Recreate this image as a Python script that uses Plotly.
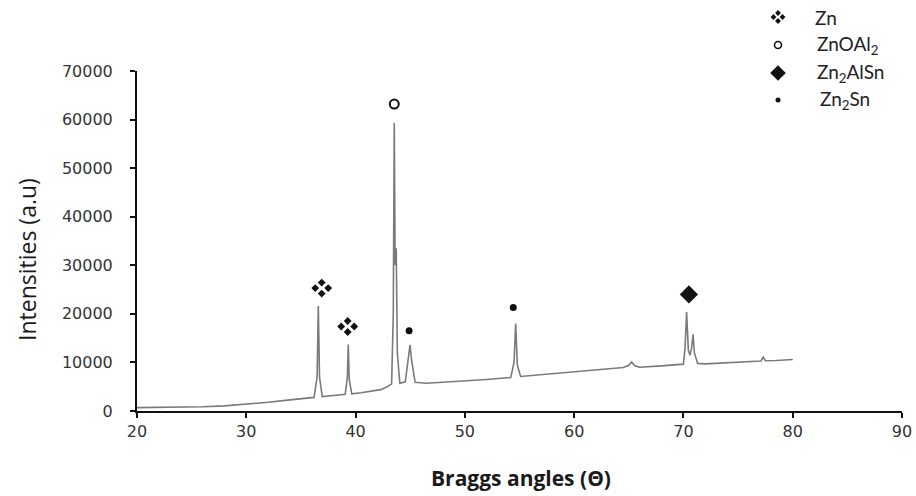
import plotly.graph_objects as go

# XRD pattern: (Bragg angle, intensity) vertices of the measured trace
angle = [
    20.0, 23.0, 26.0, 28.0, 30.0, 32.0, 34.0, 36.2,
    36.48, 36.59, 36.70, 36.95, 38.0, 39.05,
    39.25, 39.33, 39.42, 39.65, 40.5, 41.5, 42.3, 42.9, 43.3,
    43.45, 43.54, 43.62, 43.72, 43.82, 44.05, 44.55,
    44.85, 44.98, 45.12, 45.45, 46.5, 48.0, 50.0, 52.0, 54.2,
    54.5, 54.65, 54.8, 55.1, 57.0, 60.0, 62.0, 64.5,
    65.0, 65.26, 65.55, 66.0, 68.0, 70.0,
    70.15, 70.29, 70.45, 70.6, 70.75, 70.88, 71.0, 71.3,
    72.0, 74.0, 76.0, 77.1, 77.3, 77.5, 78.5, 80.0,
]
intensity = [
    700, 740, 860, 1050, 1400, 1800, 2300, 2800,
    7000, 21600, 7000, 2950, 3200, 3450,
    7000, 13700, 6500, 3550, 3750, 4050, 4400, 5000, 5600,
    20000, 59300, 30000, 33500, 12000, 5700, 6000,
    11000, 13600, 10500, 5900, 5700, 5900, 6100, 6500, 6900,
    10000, 18000, 9500, 7100, 7500, 8100, 8500, 8950,
    9400, 10100, 9300, 9000, 9300, 9650,
    13000, 20400, 12500, 11500, 13000, 15800, 12000, 9800,
    9700, 9900, 10100, 10300, 11100, 10350, 10400, 10600,
]

# phase markers placed above the indexed reflections
zn_angle = [36.9, 39.28]
zn_int = [25300, 17400]
znoal_angle = [43.54]
znoal_int = [63200]
znalsn_angle = [70.5]
znalsn_int = [24000]
znsn_angle = [44.9, 54.43]
znsn_int = [16500, 21300]

legend_labels = ["Zn", "ZnOAl<sub>2</sub>", "Zn<sub>2</sub>AlSn", "Zn<sub>2</sub>Sn"]

x_ticks = [20, 30, 40, 50, 60, 70, 80, 90]
y_ticks = [0, 10000, 20000, 30000, 40000, 50000, 60000, 70000]
y_tick_text = ["0", "10000", "20000", "30000", "40000", "50000", "60000", "70000"]

X_RANGE = [20, 90]
Y_RANGE = [0, 70000]
INK = "#111111"

FIG_W, FIG_H = 916, 496
# plot area: 137..902 px horizontally, 71..411 px vertically
L, R, T, B = 137, 902, 71, 411
X_PER_PX = (X_RANGE[1] - X_RANGE[0]) / (R - L)
Y_PER_PX = (Y_RANGE[1] - Y_RANGE[0]) / (B - T)


def fx(xp):
    return xp / FIG_W


def fy(yp):
    return 1 - yp / FIG_H


fig = go.Figure()

fig.add_trace(go.Scatter(
    x=angle, y=intensity, mode="lines",
    line=dict(color="#7a7a7a", width=1.6),
    showlegend=False, hoverinfo="skip",
))


def zn_symbol(xs, ys, dx, dy, size, xaxis="x", yaxis="y"):
    """Zn symbol: four small diamonds arranged around each (x, y)."""
    cx, cy = [], []
    for x, y in zip(xs, ys):
        for sx, sy in [(-dx, 0), (dx, 0), (0, dy), (0, -dy)]:
            cx.append(x + sx)
            cy.append(y + sy)
    fig.add_trace(go.Scatter(
        x=cx, y=cy, mode="markers", cliponaxis=False, xaxis=xaxis, yaxis=yaxis,
        marker=dict(symbol="diamond", size=size, color=INK),
        showlegend=False, hoverinfo="skip",
    ))


zn_symbol(zn_angle, zn_int, 6.5 * X_PER_PX, 5.5 * Y_PER_PX, 6)

fig.add_trace(go.Scatter(
    x=znoal_angle, y=znoal_int, mode="markers", cliponaxis=False,
    marker=dict(symbol="circle-open", size=9, color=INK, line=dict(width=2)),
    showlegend=False, hoverinfo="skip",
))
fig.add_trace(go.Scatter(
    x=znalsn_angle, y=znalsn_int, mode="markers",
    marker=dict(symbol="diamond", size=14, color=INK),
    showlegend=False, hoverinfo="skip",
))
fig.add_trace(go.Scatter(
    x=znsn_angle, y=znsn_int, mode="markers",
    marker=dict(symbol="circle", size=7, color=INK),
    showlegend=False, hoverinfo="skip",
))

# key in the top-right corner, drawn on a pixel-scaled overlay axis
KEY_X0, KEY_X1, KEY_Y0, KEY_Y1 = 740, 916, 0, 120
key_rows = [17, 45, 73, 100]
key_sym_x = 778
key_text_x = [813, 815, 815, 818]

zn_symbol([key_sym_x], [key_rows[0]], 4.5, 4, 4.5, "x2", "y2")
fig.add_trace(go.Scatter(
    x=[key_sym_x], y=[key_rows[1]], mode="markers", xaxis="x2", yaxis="y2",
    marker=dict(symbol="circle-open", size=7, color=INK, line=dict(width=1.6)),
    showlegend=False, hoverinfo="skip",
))
fig.add_trace(go.Scatter(
    x=[key_sym_x], y=[key_rows[2]], mode="markers", xaxis="x2", yaxis="y2",
    marker=dict(symbol="diamond", size=12, color=INK),
    showlegend=False, hoverinfo="skip",
))
fig.add_trace(go.Scatter(
    x=[key_sym_x], y=[key_rows[3]], mode="markers", xaxis="x2", yaxis="y2",
    marker=dict(symbol="circle", size=5, color=INK),
    showlegend=False, hoverinfo="skip",
))

annotations = []
for label, row, tx in zip(legend_labels, key_rows, key_text_x):
    annotations.append(dict(
        xref="paper", yref="paper", x=fx(tx), y=fy(row),
        xanchor="left", yanchor="middle", showarrow=False,
        text=label, font=dict(family="Lato", size=19, color="#222222"),
    ))

annotations.append(dict(
    xref="paper", yref="paper", x=fx(521), y=fy(478), xanchor="center", yanchor="middle",
    showarrow=False, text="<b>Braggs angles (Θ)</b>",
    font=dict(family="Open Sans", size=21, color="#1a1a1a"),
))
annotations.append(dict(
    xref="paper", yref="paper", x=fx(27), y=fy(260), xanchor="center", yanchor="middle",
    showarrow=False, text="Intensities (a.u)", textangle=-90,
    font=dict(family="Open Sans", size=23, color="#1a1a1a"),
))

axis_common = dict(
    showgrid=False, zeroline=False, showline=True, linecolor=INK, linewidth=2,
    ticks="outside", ticklen=5, tickwidth=2, tickcolor=INK, automargin=False,
    tickfont=dict(family="DejaVu Sans", size=16, color="#333333"),
)

fig.update_layout(
    width=FIG_W, height=FIG_H,
    margin=dict(l=0, r=0, t=0, b=0, autoexpand=False),
    paper_bgcolor="white", plot_bgcolor="rgba(0,0,0,0)",
    xaxis=dict(range=X_RANGE, tickvals=x_ticks, domain=[fx(L), fx(R)],
               anchor="y", **axis_common),
    yaxis=dict(range=Y_RANGE, tickvals=y_ticks, ticktext=y_tick_text,
               domain=[fy(B), fy(T)], anchor="x",
               ticklabelstandoff=14, **axis_common),
    xaxis2=dict(range=[KEY_X0, KEY_X1], domain=[fx(KEY_X0), fx(KEY_X1)],
                visible=False, anchor="y2", fixedrange=True, automargin=False),
    yaxis2=dict(range=[KEY_Y1, KEY_Y0], domain=[fy(KEY_Y1), fy(KEY_Y0)],
                visible=False, anchor="x2", fixedrange=True, automargin=False),
    annotations=annotations,
    showlegend=False,
)

fig.write_html("out.html")
